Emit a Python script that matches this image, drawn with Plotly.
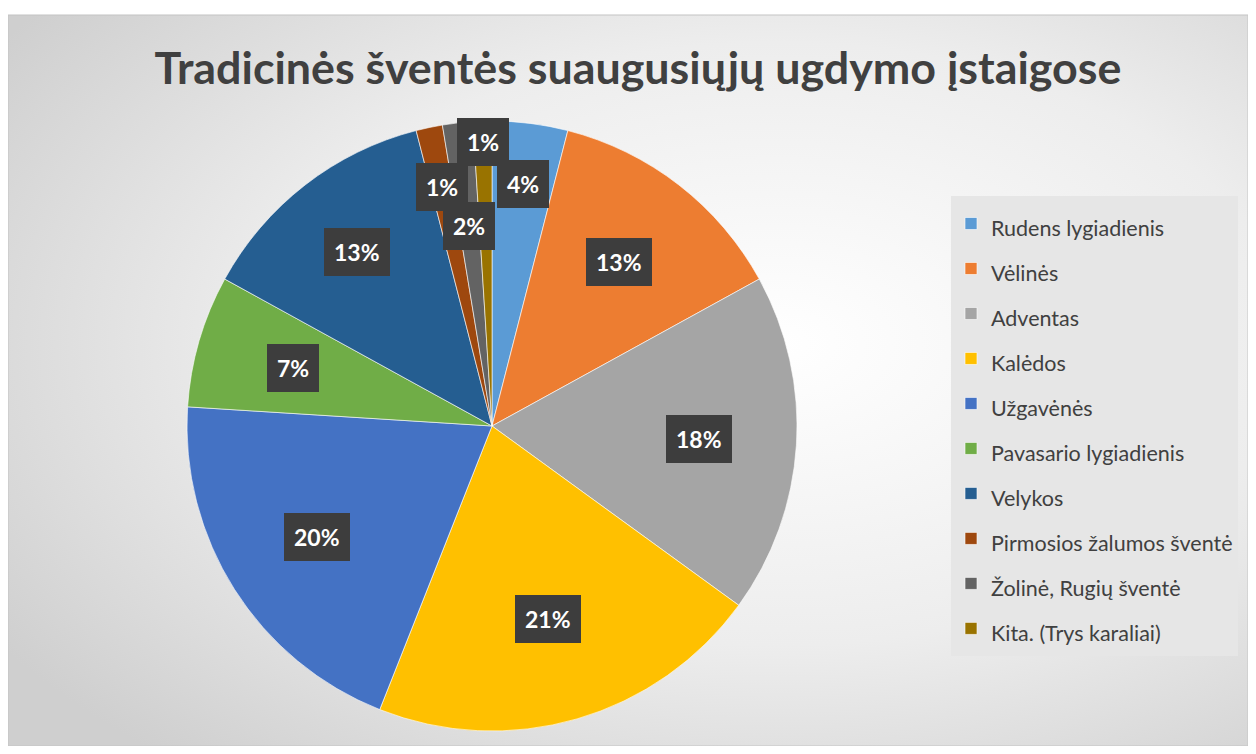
import math
import base64
import plotly.graph_objects as go

# ---- data ----
labels = ["Rudens lygiadienis", "Vėlinės", "Adventas", "Kalėdos", "Užgavėnės",
          "Pavasario lygiadienis", "Velykos", "Pirmosios žalumos šventė",
          "Žolinė, Rugių šventė", "Kita. (Trys karaliai)"]
values = [4, 13, 18, 21, 20, 7, 13, 1.4, 1.6, 1.0]
colors = ["#5B9BD5", "#ED7D31", "#A5A5A5", "#FFC000", "#4472C4",
          "#70AD47", "#255E91", "#9E480E", "#636363", "#997300"]
title_text = "Tradicinės šventės suaugusiųjų ugdymo įstaigose"

# ---- layout geometry (styles) ----
W, H = 1240, 738
cx_px, cy_px, rad_px = 484, 418, 305          # pie centre / radius in paper px
dom_x = [(cx_px - rad_px) / W, (cx_px + rad_px) / W]
dom_y = [1 - (cy_px + rad_px) / H, 1 - (cy_px - rad_px) / H]
label_r = [0.8, 0.68, 0.68, 0.66, 0.68, 0.68, 0.72, 0.8, 0.66, 0.93]
FONT = "Lato, 'Open Sans', sans-serif"

# background gradient as inline svg
svg = f'''<svg xmlns="http://www.w3.org/2000/svg" width="{W}" height="{H}">
<defs><radialGradient id="g" cx="0.62" cy="0.45" r="0.75">
<stop offset="0" stop-color="#ffffff"/><stop offset="0.55" stop-color="#ededed"/>
<stop offset="1" stop-color="#cfcfcf"/></radialGradient></defs>
<rect x="0" y="7" width="{W}" height="{H-7}" fill="url(#g)" stroke="#c4c4c4" stroke-width="1"/>
</svg>'''
bg_src = "data:image/svg+xml;base64," + base64.b64encode(svg.encode()).decode()

fig = go.Figure()
fig.add_trace(go.Pie(
    labels=[f"<span style='font-size:21.5px'>{l}</span>" for l in labels],
    values=values, sort=False, direction="clockwise", rotation=0,
    marker=dict(colors=colors, line=dict(color="rgba(255,255,255,0.6)", width=1)),
    textinfo="none", hovertemplate="%{label}: %{percent:.0%}<extra></extra>",
    domain=dict(x=dom_x, y=dom_y),
))

# data-label boxes, positioned from cumulative values
total = sum(values)
cum = 0
annotations = []
for v, rf in zip(values, label_r):
    mid = (cum + v / 2) / total
    cum += v
    ang = mid * 2 * math.pi
    px = cx_px + rf * rad_px * math.sin(ang)
    py = cy_px - rf * rad_px * math.cos(ang)
    annotations.append(dict(
        x=px / W, y=1 - py / H, xref="paper", yref="paper",
        xanchor="center", yanchor="middle",
        text=f"<b>{round(v / total * 100):.0f}%</b>", showarrow=False,
        font=dict(family=FONT, size=23, color="white"),
        bgcolor="#3d3d3d", borderpad=9, bordercolor="#3d3d3d",
    ))

fig.update_layout(
    width=W, height=H, margin=dict(l=0, r=0, t=0, b=0),
    paper_bgcolor="white", plot_bgcolor="white",
    images=[dict(source=bg_src, xref="paper", yref="paper", x=0, y=1,
                 sizex=1, sizey=1, xanchor="left", yanchor="top",
                 sizing="stretch", layer="below")],
    title=dict(text=f"<b>{title_text}</b>", x=630 / W, xanchor="center",
               y=1 - 60 / H, yanchor="middle",
               font=dict(family=FONT, size=44.8, color="#404040")),
    legend=dict(x=943 / W, y=1 - 188 / H, xanchor="left", yanchor="top",
                bgcolor="#e6e6e6", font=dict(family=FONT, size=32.3, color="#404040"),
                itemwidth=30, tracegroupgap=0),
    annotations=annotations,
)

fig.write_html("out.html")
